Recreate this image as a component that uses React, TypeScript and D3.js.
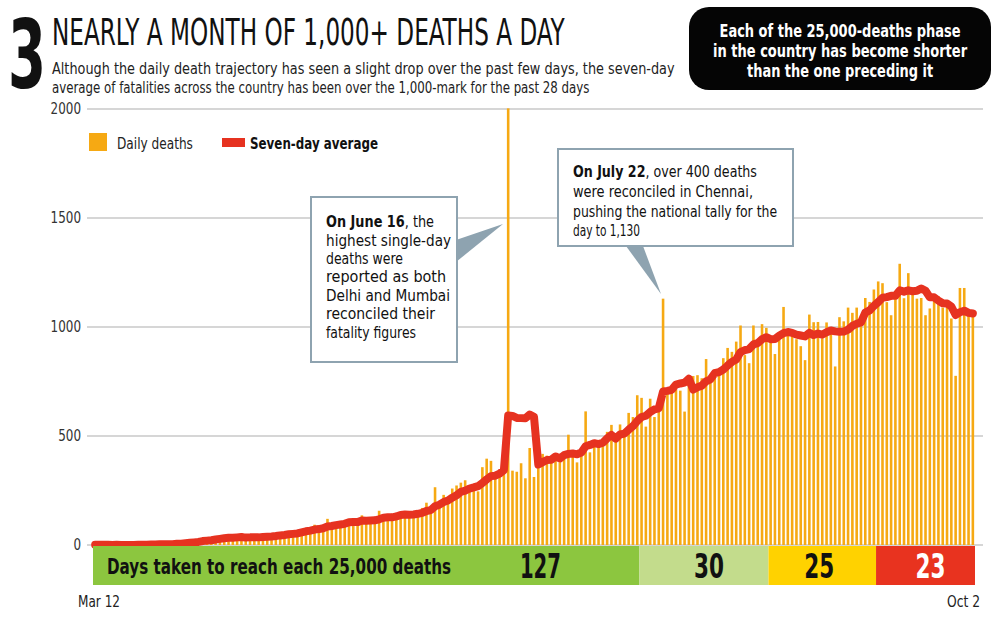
import React, { useLayoutEffect, useRef, useState } from "react";
import * as d3 from "d3";

// ---------- DATA ----------
const startLabel = "Mar 12";
const endLabel = "Oct 2";

// Daily deaths, Mar 12 .. Oct 2 (205 days)
const dailyDeaths: number[] = [
  // Mar 12-31
  1, 1, 0, 0, 0, 1, 0, 1, 0, 1, 3, 2, 1, 3, 5, 3, 5, 4, 5, 14,
  // Apr
  9, 16, 14, 21, 22, 32, 25, 22, 41, 34, 39, 38, 31, 42, 31, 26, 37, 42, 37, 44,
  50, 37, 41, 58, 56, 60, 56, 63, 72, 77,
  // May
  77, 93, 73, 83, 120, 89, 104, 97, 115, 120, 87, 122, 136, 103, 104, 120, 157, 134, 132, 140,
  132, 148, 137, 147, 146, 150, 170, 194, 175, 265, 193,
  // Jun
  230, 204, 259, 273, 286, 297, 261, 266, 246, 357, 396, 386, 311, 325, 380, 2003, 341, 336, 375, 306,
  445, 312, 465, 418, 410, 384, 410, 380, 417, 506,
  // Jul
  434, 379, 442, 613, 425, 467, 482, 475, 519, 551, 500, 553, 500, 606, 587, 687, 675, 543, 671, 587,
  637, 1130, 703, 710, 713, 708, 612, 768, 775, 779, 765,
  // Aug
  853, 771, 806, 803, 857, 904, 886, 933, 1007, 871, 834, 1007, 942, 1013, 996, 944, 876, 941, 1092, 977,
  983, 944, 912, 848, 1057, 1022, 1023, 948, 1021, 971, 819,
  // Sep
  1045, 1026, 1089, 1065, 1089, 1016, 1133, 1115, 1172, 1209, 1201, 1114, 1054, 1136, 1290, 1132, 1247, 1174, 1130, 1133,
  1054, 1085, 1129, 1141, 1089, 1124, 1039, 776, 1179, 1179,
  // Oct 1-2
  1069, 1070,
];

// Seven-day average (one value per day)
const sevenDayAverage: number[] = [
  1, 1, 1, 1, 0, 1, 0, 0, 0, 0, 1, 1, 1, 2, 2, 3, 3, 3, 4, 6,
  6, 8, 10, 12, 14, 18, 20, 22, 25, 28, 31, 33, 33, 35, 37, 34, 35, 35, 35, 37,
  38, 39, 41, 44, 46, 49, 51, 53, 58, 63,
  66, 71, 73, 77, 85, 87, 91, 94, 97, 104, 105, 105, 112, 111, 112, 113, 118, 125, 127, 127,
  131, 138, 140, 139, 140, 143, 147, 156, 160, 178, 185,
  197, 204, 217, 228, 244, 249, 259, 264, 270, 284, 301, 316, 318, 327, 343, 594, 592, 583, 582, 581,
  598, 588, 369, 380, 390, 391, 406, 397, 412, 418,
  420, 416, 424, 453, 459, 467, 463, 469, 489, 505, 488, 507, 511, 529, 545, 569, 587, 593, 610, 622,
  627, 704, 707, 712, 736, 741, 745, 763, 713, 724, 731,
  751, 760, 788, 793, 805, 823, 840, 851, 885, 894, 899, 920, 926, 944, 953, 944, 945, 960, 972, 977,
  973, 965, 961, 957, 973, 963, 970, 965, 976, 984, 980,
  978, 979, 988, 1005, 1015, 1021, 1066, 1076, 1097, 1114, 1134, 1137, 1143, 1143, 1168, 1162, 1168, 1164, 1166, 1177,
  1166, 1136, 1136, 1121, 1109, 1108, 1094, 1055, 1068, 1075,
  1065, 1062,
];

const yTicks = [0, 500, 1000, 1500, 2000];
const phaseDays = [127, 30, 25, 23];
const phaseLabels = ["127", "30", "25", "23"];
const phaseColors = ["#8cc63f", "#c3dc8c", "#ffd200", "#e8331f"];
const phaseTextColors = ["#111", "#111", "#111", "#ffffff"];

const titleNumber = "3";
const title = "NEARLY A MONTH OF 1,000+ DEATHS A DAY";
const subtitleLines = [
  "Although the daily death trajectory has seen a slight drop over the past few days, the seven-day",
  "average of fatalities across the country has been over the 1,000-mark for the past 28 days",
];
const calloutLines = [
  "Each of the 25,000-deaths phase",
  "in the country has become shorter",
  "than the one preceding it",
];
const note1Bold = "On June 16";
const note1Lines = [", the", "highest single-day", "deaths were", "reported as both", "Delhi and Mumbai", "reconciled their", "fatality figures"];
const note2Bold = "On July 22";
const note2Lines = [", over 400 deaths", "were reconciled in Chennai,", "pushing the national tally for the", "day to 1,130"];
const bandTitle = "Days taken to reach each 25,000 deaths";

// ---------- STYLE ----------
const W = 1000;
const H = 623;
const FONT = "'Liberation Sans Narrow','DejaVu Sans Condensed','Roboto Condensed','Arial Narrow',sans-serif";
const BAR = "#f6a913";
const LINE = "#e63220";
const GRID = "#c9c9c9";
const NOTE_BORDER = "#8ea3b0";

// Text squeezed horizontally to a target width (condensed look)
function FitText(props: {
  x: number;
  y: number;
  width: number;
  anchor?: "start" | "middle" | "end";
  fontSize: number;
  fontWeight?: number;
  fill?: string;
  children: React.ReactNode;
}) {
  const { x, y, width, anchor = "start", fontSize, fontWeight = 400, fill = "#111", children } = props;
  const ref = useRef<SVGTextElement>(null);
  const [s, setS] = useState(0.8);
  useLayoutEffect(() => {
    if (ref.current) {
      const w = ref.current.getComputedTextLength();
      if (w > 0) setS(width / w);
    }
  }, [width, fontSize]);
  const left = anchor === "middle" ? x - width / 2 : anchor === "end" ? x - width : x;
  return (
    <text
      ref={ref}
      transform={`translate(${left},${y}) scale(${s},1)`}
      x={0}
      y={0}
      fontSize={fontSize}
      fontWeight={fontWeight}
      fill={fill}
    >
      {children}
    </text>
  );
}

export default function App() {
  const n = dailyDeaths.length;
  const plotLeft = 93;
  const plotRight = 975;
  const x = d3
    .scaleBand<number>()
    .domain(d3.range(n))
    .range([plotLeft, plotRight])
    .paddingInner(0.4)
    .paddingOuter(0.2);
  const step = x.step();
  const edge = (i: number) => plotLeft + i * step;
  const y = d3.scaleLinear().domain([0, 2000]).range([545, 109]);

  const line = d3
    .line<number>()
    .x((_, i) => (x(i) as number) + x.bandwidth() / 2)
    .y((d) => y(d));

  const bandTop = 546;
  const bandBottom = 585;

  let acc = 0;
  const phases = phaseDays.map((d, i) => {
    const s = acc;
    acc += d;
    return { start: s, end: acc, i };
  });

  const note1Widths = [125, 77, 120, 124, 109, 90];
  const note2Widths = [180, 204, 67];
  const calloutWidths = [241, 254, 186];
  const phaseWidths = [41, 30, 30, 30];

  return (
    <svg
      width={W}
      height={H}
      viewBox={`0 0 ${W} ${H}`}
      style={{ position: "absolute", left: 0, top: 0, background: "#fff" }}
      fontFamily={FONT}
    >
      <rect x={0} y={0} width={W} height={H} fill="#fff" />

      {/* Heading */}
      <FitText x={8} y={88} width={38} fontSize={94} fontWeight={700}>
        {titleNumber}
      </FitText>
      <FitText x={52} y={45} width={513} fontSize={38}>
        {title}
      </FitText>
      {subtitleLines.map((t, i) => (
        <FitText key={i} x={52} y={74 + i * 19} width={i === 0 ? 623 : 538} fontSize={16.5} fill="#222">
          {t}
        </FitText>
      ))}

      {/* Black callout */}
      <rect x={689} y={7} width={302} height={83} rx={20} fill="#050505" />
      {calloutLines.map((t, i) => (
        <FitText key={i} x={840} y={37 + i * 20} width={calloutWidths[i]} anchor="middle" fontSize={17} fontWeight={700} fill="#fff">
          {t}
        </FitText>
      ))}

      {/* Grid & y labels */}
      {yTicks.map((t) => (
        <g key={t}>
          <line x1={87} x2={983} y1={y(t)} y2={y(t)} stroke={GRID} strokeWidth={1.5} />
          <FitText x={81} y={y(t) + 5} width={String(t).length * 7.6} anchor="end" fontSize={15} fill="#333">
            {t}
          </FitText>
        </g>
      ))}

      {/* Legend */}
      <rect x={89} y={133} width={18} height={18} fill={BAR} />
      <FitText x={117} y={149} width={76} fontSize={16.5} fill="#222">
        Daily deaths
      </FitText>
      <rect x={222} y={138} width={23} height={9} fill={LINE} />
      <FitText x={250} y={149} width={128} fontSize={16.5} fontWeight={700}>
        Seven-day average
      </FitText>

      {/* Bars */}
      {dailyDeaths.map((d, i) => (
        <rect key={i} x={x(i)} y={y(d)} width={x.bandwidth()} height={y(0) - y(d)} fill={BAR} />
      ))}

      {/* Seven-day line */}
      <path
        d={line(sevenDayAverage) || ""}
        fill="none"
        stroke={LINE}
        strokeWidth={8}
        strokeLinejoin="round"
        strokeLinecap="round"
      />

      {/* Phase band */}
      {phases.map((p) => (
        <rect
          key={p.i}
          x={edge(p.start)}
          y={bandTop}
          width={edge(p.end) - edge(p.start)}
          height={bandBottom - bandTop}
          fill={phaseColors[p.i]}
        />
      ))}
      <FitText x={107} y={574} width={344} fontSize={22} fontWeight={700}>
        {bandTitle}
      </FitText>
      {phases.map((p) => {
        const cx = p.i === 0 ? edge(p.end) - 99 : (edge(p.start) + edge(p.end)) / 2 + [0, 5, -3, 5][p.i];
        return (
          <FitText
            key={p.i}
            x={cx}
            y={578}
            width={phaseWidths[p.i]}
            anchor="middle"
            fontSize={33}
            fontWeight={700}
            fill={phaseTextColors[p.i]}
          >
            {phaseLabels[p.i]}
          </FitText>
        );
      })}

      {/* X labels */}
      <FitText x={78} y={607} width={42} fontSize={15.5} fill="#222">
        {startLabel}
      </FitText>
      <FitText x={980} y={607} width={33} anchor="end" fontSize={15.5} fill="#222">
        {endLabel}
      </FitText>

      {/* Annotation 1 */}
      <polygon points="456,240 456,262 503,224" fill={NOTE_BORDER} />
      <rect x={311} y={197} width={146} height={165} fill="#fff" stroke={NOTE_BORDER} strokeWidth={2} />
      <FitText x={326} y={227} width={108} fontSize={16}>
        <tspan fontWeight={700}>{note1Bold}</tspan>
        <tspan>{note1Lines[0]}</tspan>
      </FitText>
      {note1Lines.slice(1).map((t, i) => (
        <FitText key={i} x={326} y={245.5 + i * 18.4} width={note1Widths[i]} fontSize={16}>
          {t}
        </FitText>
      ))}

      {/* Annotation 2 */}
      <polygon points="626,246 643,246 661,294" fill={NOTE_BORDER} />
      <rect x={558} y={149} width={235} height={97} fill="#fff" stroke={NOTE_BORDER} strokeWidth={2} />
      <FitText x={573} y={177} width={184} fontSize={16}>
        <tspan fontWeight={700}>{note2Bold}</tspan>
        <tspan>{note2Lines[0]}</tspan>
      </FitText>
      {note2Lines.slice(1).map((t, i) => (
        <FitText key={i} x={573} y={197 + i * 19.5} width={note2Widths[i]} fontSize={16}>
          {t}
        </FitText>
      ))}
    </svg>
  );
}
